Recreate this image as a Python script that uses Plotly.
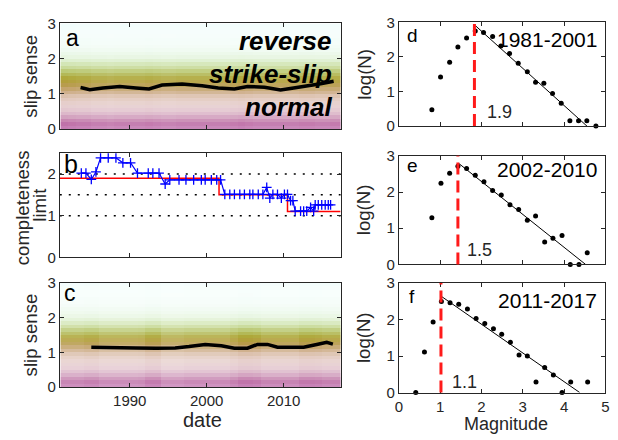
import plotly.graph_objects as go

# ---------------- data ----------------
# slip-sense density cloud (read as coverage fraction per 0.1 slip-sense bin, 0..3)
slip_bins = [round(0.05 + 0.1 * i, 2) for i in range(30)]
density_a = [0.50, 0.55, 0.48, 0.38, 0.30, 0.25, 0.23, 0.24, 0.28, 0.35,
             0.48, 0.60, 0.72, 0.78, 0.78, 0.68, 0.56, 0.42, 0.32, 0.22,
             0.15, 0.12, 0.09, 0.07, 0.06, 0.06, 0.05, 0.05, 0.06, 0.07]
density_c = [0.47, 0.52, 0.45, 0.35, 0.28, 0.23, 0.22, 0.22, 0.26, 0.33,
             0.45, 0.58, 0.70, 0.75, 0.75, 0.65, 0.53, 0.39, 0.28, 0.19,
             0.13, 0.10, 0.08, 0.06, 0.05, 0.05, 0.04, 0.04, 0.05, 0.06]
cloud_years = [1981.5 + i for i in range(37)]
activity_a = [1.1, 1.08, 1.05, 1.05, 1.0, 1.0, 0.97, 1.0, 1.0, 1.0,
              1.0, 1.03, 1.0, 0.97, 0.97, 1.0, 1.0, 1.0, 1.0, 1.0,
              1.0, 1.0, 1.03, 1.06, 1.03, 1.0, 1.0, 1.0, 1.0, 1.0,
              1.0, 1.03, 1.03, 1.0, 1.0, 1.03, 1.03]
activity_c = [1.0, 1.0, 1.0, 1.05, 1.05, 0.95, 0.95, 0.95, 0.95, 0.95,
              0.97, 1.08, 1.08, 0.92, 0.92, 0.92, 0.97, 0.97, 0.97, 0.97,
              0.97, 0.97, 1.05, 1.15, 1.15, 1.12, 1.02, 1.02, 1.02, 1.02,
              1.02, 1.12, 1.12, 1.1, 1.05, 1.05, 1.05]

# running mean of slip sense
mean_a_years = [1983.6, 1984.8, 1986.5, 1988.7, 1990.8, 1992.5, 1994.2, 1996.8, 1999.4,
                2001.5, 2003.6, 2005.3, 2007.5, 2009.6, 2011.3, 2013.5, 2014.8, 2016.0, 2016.5]
mean_a_vals = [1.18, 1.12, 1.17, 1.21, 1.17, 1.14, 1.25, 1.28, 1.23,
               1.17, 1.14, 1.21, 1.19, 1.11, 1.17, 1.23, 1.29, 1.34, 1.36]
mean_c_years = [1985.0, 1987.8, 1990.8, 1993.4, 1995.9, 1997.7, 1999.8, 2001.9, 2003.6,
                2005.3, 2006.6, 2007.9, 2009.2, 2010.9, 2012.6, 2014.3, 2015.6, 2016.4]
mean_c_vals = [1.15, 1.15, 1.13, 1.12, 1.13, 1.17, 1.23, 1.19, 1.12,
               1.12, 1.23, 1.23, 1.15, 1.15, 1.15, 1.23, 1.29, 1.24]

# completeness limit
mc_years = [1983.7, 1984.3, 1985.0, 1985.6, 1986.2, 1987.2, 1988.2, 1989.1, 1990.1, 1991.0,
            1992.4, 1993.0, 1993.8, 1994.6, 1995.2, 1996.4, 1997.3, 1998.3, 1999.3, 1999.8,
            2000.6, 2001.3, 2001.8, 2002.35, 2003.0, 2003.6, 2004.3, 2004.9, 2005.6, 2006.0,
            2006.7, 2007.3, 2007.8, 2008.2, 2008.6, 2009.2, 2009.7, 2010.1, 2010.5, 2010.9,
            2011.2, 2011.5, 2012.2, 2012.6, 2013.0, 2013.5, 2013.9, 2014.1, 2014.5, 2014.95,
            2015.4, 2015.8, 2016.1]
mc_vals = [2.02, 2.02, 1.87, 2.05, 2.39, 2.39, 2.39, 2.27, 2.27, 2.02,
           2.02, 2.02, 2.02, 1.76, 1.86, 1.86, 1.86, 1.86, 1.86, 1.86,
           1.86, 1.86, 1.86, 1.51, 1.51, 1.51, 1.51, 1.51, 1.51, 1.51,
           1.51, 1.51, 1.68, 1.42, 1.51, 1.51, 1.42, 1.51, 1.51, 1.36,
           1.36, 1.11, 1.11, 1.11, 1.11, 1.20, 1.11, 1.26, 1.26, 1.26,
           1.26, 1.26, 1.26]
step_years = [1980.9, 2001.6, 2010.5, 2017.4]
step_vals = [1.9, 1.5, 1.1, 1.1]
grid_levels = [1.0, 1.5, 2.0]

# frequency-magnitude
mag_d = [0.80, 1.01, 1.23, 1.43, 1.64, 1.85, 2.05, 2.27, 2.47, 2.68, 2.89, 3.11, 3.31,
         3.51, 3.72, 3.93, 4.14, 4.35, 4.55, 4.77]
logn_d = [0.47, 1.42, 1.85, 2.29, 2.55, 2.75, 2.71, 2.59, 2.32, 2.10, 1.82, 1.57, 1.27,
          1.24, 0.94, 0.66, 0.15, 0.15, 0.15, 0.0]
mag_e = [0.80, 1.02, 1.23, 1.43, 1.64, 1.85, 2.06, 2.27, 2.48, 2.69, 2.90, 3.11, 3.31,
         3.53, 3.73, 3.95, 4.15, 4.36, 4.56]
logn_e = [1.29, 2.24, 2.52, 2.71, 2.65, 2.46, 2.28, 2.04, 1.92, 1.65, 1.52, 1.22, 1.34,
          0.62, 0.72, 0.80, 0.0, 0.0, 0.32]
mag_f = [0.41, 0.62, 0.83, 1.03, 1.24, 1.45, 1.66, 1.87, 2.08, 2.29, 2.49, 2.70, 2.91,
         3.11, 3.32, 3.53, 3.74, 3.95, 4.16, 4.57]
logn_f = [0.0, 1.11, 1.93, 2.49, 2.46, 2.42, 2.29, 2.03, 1.89, 1.75, 1.60, 1.38, 1.03,
          1.00, 0.29, 0.69, 0.48, 0.0, 0.29, 0.29]
fit_d_x = [1.855, 4.68]
fit_d_y = [2.905, -0.14]
fit_e_x = [1.45, 4.52]
fit_e_y = [2.79, 0.0]
fit_f_x = [1.035, 4.38]
fit_f_y = [2.63, 0.0]
mc_lines = [1.83, 1.43, 1.02]
mc_labels = ["1.9", "1.5", "1.1"]
periods = ["1981-2001", "2002-2010", "2011-2017"]

# ---------------- styling helpers ----------------
W, H = 618, 440
FONT = "Liberation Sans, Arial, Helvetica, sans-serif"
AX = "#262626"

color_stops = [0.0, 0.4, 0.8, 1.1, 1.4, 1.8, 2.1, 2.5, 3.0]
color_rgb = [(150, 15, 120), (150, 35, 100), (160, 75, 50), (165, 110, 35), (165, 150, 25),
             (135, 180, 40), (105, 200, 80), (85, 218, 160), (70, 230, 220)]


def slip_color(v):
    for i in range(len(color_stops) - 1):
        if color_stops[i] <= v <= color_stops[i + 1]:
            t = (v - color_stops[i]) / (color_stops[i + 1] - color_stops[i])
            a, b = color_rgb[i], color_rgb[i + 1]
            return [a[k] + t * (b[k] - a[k]) for k in range(3)]
    return list(color_rgb[-1])


def cloud_heatmap(density, activity, xa, ya):
    z, scale = [], []
    n = len(density) * len(activity)
    idx = 0
    for s, d in zip(slip_bins, density):
        c = slip_color(s)
        row = []
        for act in activity:
            f = min(1.0, d * act)
            rgb = [round(255 - f * (255 - c[k])) for k in range(3)]
            scale.append([idx / (n - 1), "rgb(%d,%d,%d)" % tuple(rgb)])
            row.append(idx)
            idx += 1
        z.append(row)
    return go.Heatmap(z=z, x=cloud_years, y=slip_bins, colorscale=scale, zmin=0, zmax=n - 1,
                      showscale=False, hoverinfo="skip", xaxis=xa, yaxis=ya)


def dom_x(p0, p1):
    return [p0 / W, p1 / W]


def dom_y(top, bottom):
    return [1 - bottom / H, 1 - top / H]


fig = go.Figure()

# ---------------- panels a, c ----------------
for ax, dens, act, my, mv in [("", density_a, activity_a, mean_a_years, mean_a_vals),
                             ("3", density_c, activity_c, mean_c_years, mean_c_vals)]:
    fig.add_trace(cloud_heatmap(dens, act, "x" + ax, "y" + ax))
    fig.add_trace(go.Scatter(x=my, y=mv, mode="lines", line=dict(color="black", width=3.5),
                             xaxis="x" + ax, yaxis="y" + ax, hoverinfo="skip"))

# ---------------- panel b ----------------
fig.add_trace(go.Scatter(x=step_years, y=step_vals, mode="lines", line_shape="hv",
                         line=dict(color="#ff0000", width=1.5), xaxis="x2", yaxis="y2"))
fig.add_trace(go.Scatter(x=mc_years, y=mc_vals, mode="lines+markers",
                         line=dict(color="#0000ff", width=1.2),
                         marker=dict(symbol="cross-thin", size=7,
                                     line=dict(color="#0000ff", width=1.3)),
                         xaxis="x2", yaxis="y2"))
for g in grid_levels:
    fig.add_shape(type="line", xref="x2 domain", yref="y2", x0=0, x1=1, y0=g, y1=g,
                  line=dict(color="black", width=1.5, dash="2px,7px"), layer="below")

# ---------------- panels d, e, f ----------------
for i, (mx, my, fx, fy) in enumerate([(mag_d, logn_d, fit_d_x, fit_d_y),
                                       (mag_e, logn_e, fit_e_x, fit_e_y),
                                       (mag_f, logn_f, fit_f_x, fit_f_y)]):
    n = str(4 + i)
    fig.add_shape(type="line", xref="x" + n, yref="y" + n + " domain",
                  x0=mc_lines[i], x1=mc_lines[i], y0=0, y1=1,
                  line=dict(color="#ff1a1a", width=3, dash="12px,6px"))
    fig.add_trace(go.Scatter(x=fx, y=fy, mode="lines", line=dict(color="black", width=1),
                             xaxis="x" + n, yaxis="y" + n))
    fig.add_trace(go.Scatter(x=mx, y=my, mode="markers", cliponaxis=False,
                             marker=dict(color="black", size=5),
                             xaxis="x" + n, yaxis="y" + n))

# ---------------- axes ----------------
common = dict(showline=True, linecolor=AX, linewidth=1, mirror="ticks", ticks="inside",
              ticklen=4, tickcolor=AX, showgrid=False, zeroline=False,
              tickfont=dict(family=FONT, size=15, color=AX))
left_x = dom_x(56.5, 341)
right_x = dom_x(400, 609.3)
date_range = [1980.9, 2017.4]
date_ticks = [1990, 2000, 2010]
title_font = dict(family=FONT, size=18.6, color=AX)

layout_axes = {
    "xaxis": dict(common, domain=left_x, range=date_range, tickvals=date_ticks,
                  showticklabels=False, anchor="y"),
    "yaxis": dict(common, domain=dom_y(15, 125), range=[0, 3], tickvals=[0, 1, 2, 3],
                  ticktext=["0", "1", "2", "3"], anchor="x",
                  title=dict(text="slip sense", font=title_font, standoff=4)),
    "xaxis2": dict(common, domain=left_x, range=date_range, tickvals=date_ticks,
                   showticklabels=False, anchor="y2"),
    "yaxis2": dict(common, domain=dom_y(150, 258.3), range=[0, 2.5], tickvals=[0, 1, 2],
                   anchor="x2"),
    "xaxis3": dict(common, domain=left_x, range=date_range, tickvals=date_ticks,
                   anchor="y3"),
    "yaxis3": dict(common, domain=dom_y(285, 393.3), range=[0, 3], tickvals=[0, 1, 2, 3],
                   ticktext=["0", "1", "2", "3"], anchor="x3",
                   title=dict(text="slip sense", font=title_font, standoff=4)),
}
for n, (top, bot) in zip(["4", "5", "6"], [(14, 121.7), (152.7, 265.7), (285, 399)]):
    layout_axes["xaxis" + n] = dict(common, domain=right_x, range=[0, 5],
                                    tickvals=[0, 1, 2, 3, 4, 5],
                                    showticklabels=(n == "6"), anchor="y" + n)
    layout_axes["yaxis" + n] = dict(common, domain=dom_y(top, bot), range=[0, 3],
                                    tickvals=[0, 1, 2, 3], anchor="x" + n)

fig.update_layout(width=W, height=H, margin=dict(l=0, r=0, t=0, b=0),
                  paper_bgcolor="white", plot_bgcolor="white", showlegend=False,
                  font=dict(family=FONT, color=AX), **layout_axes)


# ---------------- text ----------------
def txt(text, px, py, size, xanchor="center", yanchor="middle", angle=0, color="#262626",
        bold=False, italic=False):
    if bold:
        text = "<b>" + text + "</b>"
    if italic:
        text = "<i>" + text + "</i>"
    fig.add_annotation(text=text, x=px / W, y=1 - py / H, xref="paper", yref="paper",
                       xanchor=xanchor, yanchor=yanchor, showarrow=False, textangle=angle,
                       font=dict(family=FONT, size=size, color=color))


for t, py in [("reverse", 33), ("strike-slip", 68), ("normal", 102)]:
    txt(t, 334, py, 26, xanchor="right", color="black", bold=True, italic=True)

txt("a", 61, 30, 23, xanchor="left", color="black")
txt("b", 59, 161, 25, xanchor="left", color="black")
txt("c", 59, 295, 23, xanchor="left", color="black")
txt("d", 406, 28, 19, xanchor="left", color="black")
txt("e", 406, 163, 19, xanchor="left", color="black")
txt("f", 408, 299, 19, xanchor="left", color="black")

for t, py in zip(periods, [32, 167, 303]):
    txt(t, 603, py, 21, xanchor="right", color="black")
for t, px, py in zip(mc_labels, [487, 467, 452], [107, 251, 388]):
    txt(t, px, py, 18, xanchor="left", color="#262626")

txt("completeness", 18.5, 207, 18.6, angle=-90)
txt("limit", 36, 204, 18.6, angle=-90)
txt("date", 201.5, 428, 20)
for py in [68, 209, 342]:
    txt("log(N)", 365, py, 18.6, angle=-90)
txt("Magnitude", 508.5, 432, 18)

fig.write_html("out.html")
